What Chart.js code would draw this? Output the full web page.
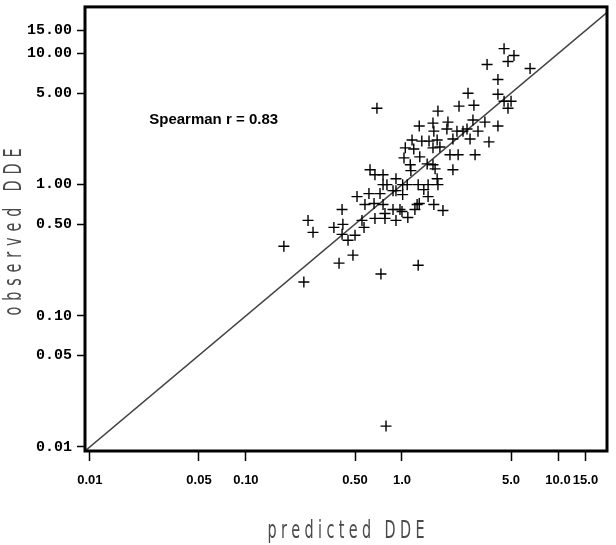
<!DOCTYPE html>
<html>
<head>
<meta charset="utf-8">
<script src="https://cdn.jsdelivr.net/npm/chart.js@4/dist/chart.umd.min.js"></script>
<style>
  html, body { margin: 0; padding: 0; background: #fff; }
</style>
</head>
<body>
<canvas id="chart" width="616" height="545"></canvas>
<script>
// Data (log-log, predicted vs observed DDE)
const predicted = [
  4.51, 5.22, 4.78, 3.51, 6.62, 4.12, 2.65, 4.12, 4.51, 5.00,
  4.78, 2.32, 2.89, 1.70, 1.29, 1.58, 1.97, 2.85, 3.40, 4.12,
  1.60, 1.94, 2.25, 2.46, 2.61, 3.07, 1.16, 1.34, 1.49, 1.68,
  2.12, 2.73, 3.61, 1.05, 1.19, 1.58, 1.75, 1.03, 1.30, 2.03,
  2.29, 2.94, 1.13, 1.45, 1.58, 1.63, 2.12, 1.14, 0.756, 0.915,
  1.68, 0.691, 0.624, 0.671, 0.756, 0.801, 0.876, 0.915, 1.01, 1.08,
  1.27, 1.38, 1.47, 1.70, 0.515, 0.614, 0.723, 1.01, 1.47, 0.579,
  0.662, 0.756, 0.876, 0.971, 1.00, 1.25, 1.29, 1.21, 1.60, 1.83,
  0.413, 0.778, 0.671, 0.778, 0.915, 1.09, 0.250, 0.269, 0.366, 0.418,
  0.413, 0.451, 0.500, 0.554, 0.571, 0.175, 0.485, 0.395, 1.27, 0.733,
  0.235, 0.790
];
const observed = [
  10.9, 9.66, 8.70, 8.26, 7.70, 6.35, 4.98, 4.89, 4.33, 4.33,
  3.83, 3.97, 4.04, 3.64, 2.80, 2.95, 3.00, 3.11, 3.00, 2.80,
  2.56, 2.66, 2.56, 2.56, 2.66, 2.56, 2.19, 2.15, 2.15, 2.19,
  2.23, 2.23, 2.12, 1.91, 1.87, 1.91, 1.94, 1.60, 1.63, 1.69,
  1.69, 1.69, 1.42, 1.44, 1.42, 1.32, 1.30, 1.28, 1.19, 1.11,
  1.11, 3.83, 1.30, 1.19, 1.00, 1.00, 0.90, 0.90, 1.00, 1.00,
  1.00, 0.917, 1.00, 1.00, 0.811, 0.855, 0.855, 0.840, 0.811, 0.705,
  0.718, 0.705, 0.647, 0.647, 0.624, 0.705, 0.718, 0.647, 0.705, 0.635,
  0.647, 0.603, 0.553, 0.553, 0.534, 0.562, 0.534, 0.433, 0.472, 0.498,
  0.418, 0.377, 0.411, 0.534, 0.472, 0.339, 0.290, 0.252, 0.243, 0.208,
  0.181, 0.0144
];
const tickValues = [0.01, 0.05, 0.10, 0.50, 1, 5, 10, 15];
const xTickLabels = ["0.01", "0.05", "0.10", "0.50", "1.0", "5.0", "10.0", "15.0"];
const yTickLabels = ["0.01", "0.05", "0.10", "0.50", "1.00", "5.00", "10.00", "15.00"];
const identityLine = [0.005, 30];
const xTitle = "predicted DDE";
const yTitle = "observed DDE";
const statText = "Spearman r = 0.83";

const statAt = { x: 0.024, y: 3.1 };
const titleFont = "16px 'Liberation Sans Narrow', 'DejaVu Sans Condensed', 'Liberation Sans'";

// letters spread out to fill a given width, centred on the origin
function spacedText(ctx, text, width) {
  const chars = [...text];
  const widths = chars.map(c => ctx.measureText(c).width);
  const natural = widths.reduce((a, b) => a + b, 0);
  const gap = (width - natural) / (chars.length - 1);
  let x = -width / 2;
  chars.forEach((c, i) => {
    ctx.fillText(c, x, 0);
    x += widths[i] + gap;
  });
}

const framePlugin = {
  id: 'frame',
  afterDatasetsDraw(chart) {
    const { ctx, chartArea: a } = chart;
    ctx.save();
    ctx.strokeStyle = '#000';
    ctx.lineWidth = 3;
    ctx.strokeRect(a.left, a.top, a.right - a.left, a.bottom - a.top);
    ctx.restore();
  }
};

const textPlugin = {
  id: 'texts',
  afterDraw(chart) {
    const { ctx, chartArea: a, scales } = chart;
    ctx.save();
    ctx.fillStyle = '#000';
    ctx.font = "bold 15px 'Liberation Sans', Arial, sans-serif";
    ctx.textAlign = 'left';
    ctx.textBaseline = 'middle';
    ctx.fillText(statText, scales.x.getPixelForValue(statAt.x), scales.y.getPixelForValue(statAt.y));

    ctx.fillStyle = '#4a4a4a';
    ctx.font = titleFont;
    ctx.textBaseline = 'alphabetic';
    ctx.textAlign = 'left';

    // x axis title
    ctx.save();
    ctx.translate((a.left + a.right) / 2, 538);
    ctx.scale(1, 1.6);
    spacedText(ctx, xTitle, 157);
    ctx.restore();

    // y axis title
    ctx.save();
    ctx.translate(21, (a.top + a.bottom) / 2 + 3);
    ctx.rotate(-Math.PI / 2);
    ctx.scale(1, 1.5);
    spacedText(ctx, yTitle, 167);
    ctx.restore();

    ctx.restore();
  }
};

const points = predicted.map((x, i) => ({ x: x, y: observed[i] }));

new Chart(document.getElementById('chart'), {
  type: 'scatter',
  data: {
    datasets: [
      {
        data: points,
        pointStyle: 'cross',
        pointRadius: 5.5,
        pointBorderWidth: 1.4,
        borderColor: '#000',
        backgroundColor: '#000',
        order: 0
      },
      {
        type: 'line',
        data: identityLine.map(v => ({ x: v, y: v })),
        borderColor: '#444',
        borderWidth: 1.5,
        pointRadius: 0,
        clip: 0,
        order: 1
      }
    ]
  },
  options: {
    responsive: false,
    animation: false,
    events: [],
    layout: { padding: { left: 0, right: 9, top: 4, bottom: 0 } },
    plugins: {
      legend: { display: false },
      tooltip: { enabled: false }
    },
    scales: {
      x: {
        type: 'logarithmic',
        min: 0.0093,
        max: 20.6,
        afterBuildTicks: s => { s.ticks = tickValues.map(v => ({ value: v })); },
        afterFit: s => { s.height = 94; s.paddingLeft = 0; s.paddingRight = 0; },
        border: { display: false },
        grid: { drawOnChartArea: false, drawTicks: true, tickLength: 10, tickColor: '#000', tickWidth: 1.5 },
        ticks: {
          autoSkip: false,
          maxRotation: 0,
          padding: 12,
          color: '#000',
          font: { family: "'Liberation Sans', Arial, sans-serif", weight: 'bold', size: 13 },
          callback: (v, i) => xTickLabels[i]
        }
      },
      y: {
        type: 'logarithmic',
        min: 0.0093,
        max: 22.7,
        afterBuildTicks: s => { s.ticks = tickValues.map(v => ({ value: v })); },
        afterFit: s => { s.width = 85; s.paddingTop = 0; s.paddingBottom = 0; },
        border: { display: false },
        grid: { drawOnChartArea: false, drawTicks: true, tickLength: 8, tickColor: '#000', tickWidth: 1.5 },
        ticks: {
          autoSkip: false,
          padding: 5,
          color: '#000',
          font: { family: "'Liberation Mono', 'DejaVu Sans Mono', monospace", weight: 'bold', size: 15 },
          callback: (v, i) => yTickLabels[i]
        }
      }
    }
  },
  plugins: [framePlugin, textPlugin]
});
</script>
</body>
</html>
